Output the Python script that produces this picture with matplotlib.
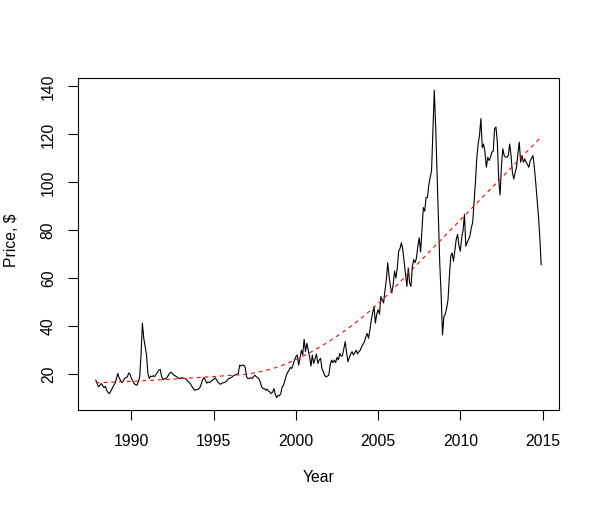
import numpy as np
import matplotlib
matplotlib.use("Agg")
import matplotlib.pyplot as plt

plt.rcParams['font.family'] = ['Liberation Sans', 'DejaVu Sans']

start_year = 1987
start_month = 11  # November

p1987 = [17.5, 16.0]
p1988 = [14.7, 15.4, 16.1, 15.2, 14.4, 15.0, 13.2, 12.3, 11.9, 13.0, 14.0, 15.3]
p1989 = [16.1, 18.0, 20.3, 18.5, 17.5, 16.5, 17.2, 18.2, 18.6, 18.9, 20.5, 20.0]
p1990 = [18.2, 17.2, 16.1, 15.6, 15.4, 16.8, 18.9, 28.0, 41.3, 35.0, 31.5, 28.0]
p1991 = [20.4, 18.2, 19.2, 19.0, 19.4, 19.0, 20.0, 20.8, 21.7, 22.0, 19.0, 17.8]
p1992 = [18.0, 18.3, 18.6, 19.6, 20.5, 20.8, 20.2, 19.6, 19.3, 18.9, 18.5, 18.2]
p1993 = [18.4, 18.5, 18.3, 18.2, 18.0, 17.1, 16.6, 16.0, 15.0, 14.2, 13.3, 13.5]
p1994 = [13.6, 13.8, 14.5, 16.0, 17.8, 18.6, 17.5, 16.3, 16.8, 16.5, 17.0, 17.5]
p1995 = [17.8, 18.5, 17.8, 16.8, 16.2, 15.8, 16.3, 16.4, 16.6, 16.9, 17.6, 18.2]
p1996 = [18.4, 18.6, 19.2, 19.6, 19.8, 20.0, 20.3, 23.8, 23.4, 23.8, 23.8, 22.8]
p1997 = [18.9, 18.2, 18.3, 18.5, 18.2, 18.9, 19.6, 19.0, 18.6, 18.0, 16.8, 14.7]
p1998 = [14.0, 14.0, 13.3, 13.8, 13.0, 12.6, 11.9, 12.5, 14.0, 11.5, 10.2, 11.2]
p1999 = [11.0, 12.0, 14.7, 15.4, 17.5, 19.5, 20.8, 21.7, 22.8, 22.4, 24.0, 25.9]
p2000 = [27.3, 28.0, 23.8, 26.6, 30.0, 28.0, 34.6, 29.4, 32.9, 30.0, 27.3, 23.4]
p2001 = [28.0, 24.5, 26.5, 28.4, 24.5, 25.9, 26.6, 22.4, 21.0, 19.6, 18.9, 19.2]
p2002 = [19.6, 23.8, 25.9, 24.8, 25.9, 24.8, 27.0, 26.0, 28.7, 27.5, 27.8, 30.8]
p2003 = [33.6, 29.0, 25.2, 27.0, 28.5, 29.4, 28.0, 29.0, 30.0, 28.5, 29.5, 30.0]
p2004 = [31.5, 32.5, 33.6, 35.5, 37.0, 35.0, 38.5, 42.5, 45.5, 48.2, 41.3, 45.0]
p2005 = [46.9, 45.0, 52.4, 51.0, 49.7, 55.0, 59.4, 66.5, 60.8, 56.5, 53.9, 57.3]
p2006 = [63.0, 60.1, 64.5, 71.3, 72.5, 74.8, 72.0, 67.0, 62.3, 56.6, 64.3, 58.0]
p2007 = [56.6, 65.0, 67.8, 66.5, 68.5, 73.4, 76.9, 71.0, 80.0, 89.5, 88.0, 93.7]
p2008 = [93.7, 99.0, 102.0, 105.0, 122.0, 138.4, 123.0, 104.0, 86.0, 66.0, 53.0, 36.4]
p2009 = [44.0, 45.0, 47.5, 51.0, 60.8, 69.2, 70.6, 67.1, 71.5, 76.2, 78.3, 73.5]
p2010 = [71.3, 77.0, 80.0, 86.7, 73.4, 75.0, 76.2, 77.6, 81.1, 83.2, 91.6, 100.0]
p2011 = [110.0, 116.0, 119.6, 126.6, 114.5, 116.0, 112.5, 106.3, 110.5, 109.1, 110.5, 112.6]
p2012 = [113.0, 122.4, 123.1, 116.8, 101.4, 94.7, 107.0, 114.0, 111.2, 110.5, 110.5, 111.2]
p2013 = [116.0, 111.2, 104.2, 101.4, 104.0, 106.3, 112.0, 116.8, 108.4, 111.2, 108.4, 109.8]
p2014 = [108.4, 107.5, 106.3, 109.1, 110.0, 111.2, 106.3, 100.0, 93.0, 86.0, 77.0, 65.7]

price = np.array(p1987 + p1988 + p1989 + p1990 + p1991 + p1992 + p1993 + p1994
                 + p1995 + p1996 + p1997 + p1998 + p1999 + p2000 + p2001 + p2002
                 + p2003 + p2004 + p2005 + p2006 + p2007 + p2008 + p2009 + p2010
                 + p2011 + p2012 + p2013 + p2014)
t = start_year + (start_month - 1) / 12 + np.arange(len(price)) / 12

xticks = [1990, 1995, 2000, 2005, 2010, 2015]
yticks = [20, 40, 60, 80, 100, 120, 140]


def lowess(x, y, f=2/3, iters=3):
    """Cleveland's robust locally weighted linear regression (as R's lowess)."""
    n = len(x)
    r = int(np.ceil(f * n))
    h = np.array([np.sort(np.abs(x - x[i]))[r - 1] for i in range(n)])
    delta = np.ones(n)
    yest = np.zeros(n)
    for _ in range(iters + 1):
        for i in range(n):
            u = np.clip(np.abs(x - x[i]) / h[i], 0, 1)
            w = (1 - u ** 3) ** 3 * delta
            sw = w.sum()
            xm = (w * x).sum() / sw
            ym = (w * y).sum() / sw
            sxx = (w * (x - xm) ** 2).sum()
            b = (w * (x - xm) * (y - ym)).sum() / sxx if sxx > 0 else 0.0
            yest[i] = ym + b * (x[i] - xm)
        res = y - yest
        s = np.median(np.abs(res))
        d = np.clip(res / (6 * s), -1, 1)
        delta = (1 - d ** 2) ** 2
    return yest


trend = lowess(t, price)

fig = plt.figure(figsize=(6.0, 5.09), dpi=100)
ax = fig.add_axes([78/600, 1-410/509, (559-78)/600, (410-78)/509])

ax.plot(t, price, color='black', lw=0.8)
ax.plot(t, trend, color='#FF0000', lw=0.8, linestyle=(0, (3.5, 3.5)))

def pad(lo, hi):
    r = hi - lo
    return lo - 0.04 * r, hi + 0.04 * r

ax.set_xlim(*pad(t.min(), t.max()))
ax.set_ylim(*pad(price.min(), price.max()))

ax.set_xticks(xticks)
ax.set_xticklabels([str(v) for v in xticks])
ax.set_yticks(yticks)
ax.set_yticklabels([str(v) for v in yticks], rotation=90, va='center')

ax.tick_params(axis='both', direction='out', length=7, width=0.8, labelsize=11.3,
               color='black')
ax.tick_params(axis='x', pad=10)
ax.tick_params(axis='y', pad=9)
for s in ax.spines.values():
    s.set_linewidth(0.8)
    s.set_color('black')

fig.text(12/600, 1-240/509, 'Price, $', rotation=90, ha='center', va='center', fontsize=11.3)
fig.text(319/600, 1-477/509, 'Year', ha='center', va='center', fontsize=11.3)

fig.savefig('out.png', dpi=100)
